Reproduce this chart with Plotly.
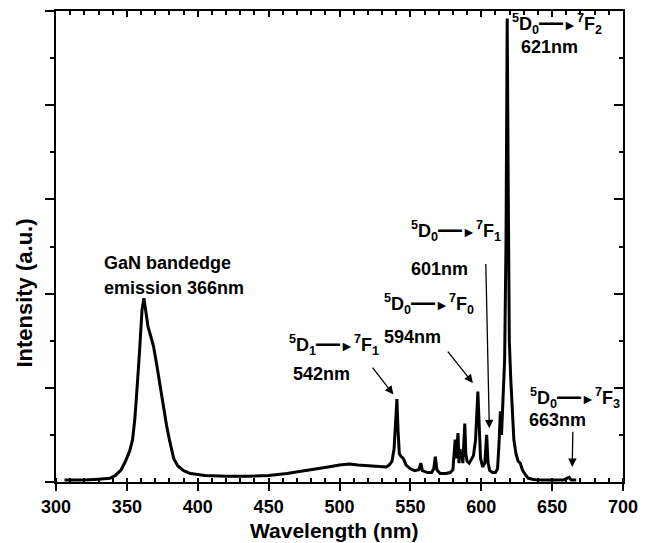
import plotly.graph_objects as go

# ---- data ----
wavelength = [306, 320, 330, 338, 342, 346, 349, 352, 354, 355.5, 356.6, 358, 359, 360.7, 362, 363,
              364.9, 366.8, 368.8, 371, 373, 375.5, 378, 380, 383, 386, 390, 395, 400, 405, 420, 435,
              450, 463, 475, 485, 492, 500, 507, 513, 521, 528, 533, 535, 537, 538.5, 539.5, 540.5,
              541.3, 542.2, 543.5, 545, 547, 550, 553, 556, 557.4, 558.5, 562, 565, 566.5, 567.6,
              568.7, 571, 575, 578, 580, 581, 581.6, 582.2, 583, 583.6, 584.3, 585, 585.6, 586.3,
              587, 587.8, 588.4, 589.1, 590, 591.5, 593, 594.5, 596, 597.6, 598.7, 599.5, 601, 602.5,
              603.8, 604.8, 606, 608, 610, 611.5, 612.5, 613.5, 614.3, 615.5, 616.5, 617.5, 618.3,
              619.0, 619.8, 620.8, 621.8, 623, 624.5, 626, 627.5, 629, 631, 633, 636, 640, 650, 658,
              660.5, 662, 663.5, 667]
intensity = [0.02, 0.02, 0.03, 0.04, 0.07, 0.13, 0.22, 0.33, 0.45, 0.65, 0.87, 1.15, 1.40, 1.83, 1.95, 1.85,
             1.65, 1.55, 1.44, 1.25, 1.05, 0.85, 0.60, 0.45, 0.25, 0.17, 0.12, 0.09, 0.08, 0.07, 0.06, 0.06,
             0.07, 0.09, 0.12, 0.14, 0.16, 0.18, 0.19, 0.18, 0.17, 0.16, 0.16, 0.18, 0.22, 0.35, 0.60, 0.88,
             0.55, 0.30, 0.27, 0.25, 0.18, 0.14, 0.12, 0.13, 0.20, 0.12, 0.10, 0.10, 0.14, 0.27,
             0.13, 0.09, 0.09, 0.10, 0.13, 0.30, 0.45, 0.25, 0.42, 0.52, 0.20, 0.35, 0.28, 0.30,
             0.20, 0.40, 0.62, 0.30, 0.22, 0.20, 0.24, 0.28, 0.45, 0.96, 0.55, 0.25, 0.16, 0.20,
             0.50, 0.20, 0.12, 0.10, 0.10, 0.14, 0.40, 0.75, 0.50, 0.90, 1.30, 2.60, 4.92,
             3.20, 1.50, 1.10, 0.75, 0.45, 0.30, 0.22, 0.20, 0.13, 0.08, 0.04, 0.03, 0.02, 0.02, 0.02,
             0.04, 0.05, 0.02, 0.02]

x_ticks = [300, 350, 400, 450, 500, 550, 600, 650, 700]
x_tick_labels = ["300", "350", "400", "450", "500", "550", "600", "650", "700"]
y_ticks = [0, 1, 2, 3, 4, 5]

x_title = "Wavelength (nm)"
y_title = "Intensity (a.u.)"

ARROW = '<span style="font-size:24px">—</span><span style="font-size:14px">►</span>'


def transition(lower, sub_final):
    return f"<sup>5</sup>D<sub>{lower}</sub>{ARROW}<sup>7</sup>F<sub>{sub_final}</sub>"


# text labels: (text, x, y)
labels = [
    ("GaN bandedge", 332.3, 2.33),
    ("emission 366nm", 332.3, 2.06),
    (transition(1, 1), 463.0, 1.47),
    ("542nm", 466.0, 1.15),
    (transition(0, 0), 530.3, 1.91),
    ("594nm", 530.3, 1.54),
    (transition(0, 1), 549.0, 2.68),
    ("601nm", 549.0, 2.26),
    (transition(0, 2), 620.4, 4.88),
    ("621nm", 626.7, 4.62),
    (transition(0, 3), 633.0, 0.91),
    ("663nm", 632.2, 0.66),
]
# arrows: (tail_x, tail_y, head_x, head_y)
arrows = [
    (522.5, 1.23, 538.0, 0.93),
    (575.6, 1.40, 594.1, 1.05),
    (603.2, 2.33, 605.7, 0.57),
    (664.6, 0.55, 664.2, 0.16),
]

FONT = "Liberation Sans, Arial, Helvetica, sans-serif"

fig = go.Figure()
fig.add_trace(go.Scatter(x=wavelength, y=intensity, mode="lines",
                         line=dict(color="black", width=3),
                         showlegend=False, hoverinfo="skip"))
fig.add_trace(go.Scatter(x=[None], y=[None], xaxis="x2", yaxis="y2",
                         showlegend=False, hoverinfo="skip"))

common_x = dict(range=[300, 700], tickvals=x_ticks, showgrid=False, zeroline=False,
                showline=True, linewidth=2, linecolor="black", tickcolor="black", tickwidth=2)
common_y = dict(range=[0, 5], tickvals=y_ticks, showgrid=False, zeroline=False,
                showline=True, linewidth=2, linecolor="black", tickcolor="black", tickwidth=2,
                showticklabels=False)

fig.update_layout(
    width=649, height=543,
    margin=dict(l=56, r=16, t=11, b=61),
    paper_bgcolor="white", plot_bgcolor="white",
    font=dict(family=FONT, color="black"),
    xaxis=dict(**common_x, ticktext=x_tick_labels, ticks="outside", ticklen=7,
               tickfont=dict(size=18, weight="bold", family=FONT),
               minor=dict(tickmode="linear", tick0=300, dtick=10, ticks="inside",
                          ticklen=4, tickwidth=1.5, tickcolor="black")),
    xaxis2=dict(**common_x, overlaying="x", side="top", anchor="y", ticks="inside", ticklen=6,
                showticklabels=False,
                minor=dict(tickmode="linear", tick0=300, dtick=10, ticks="inside",
                           ticklen=4, tickwidth=1.5, tickcolor="black")),
    yaxis=dict(**common_y, ticks="outside", ticklen=9,
               minor=dict(tickmode="linear", tick0=0, dtick=0.5, ticks="outside",
                          ticklen=4, tickwidth=1.5, tickcolor="black")),
    yaxis2=dict(**common_y, overlaying="y", side="right", anchor="x", ticks="inside", ticklen=9,
                minor=dict(tickmode="linear", tick0=0, dtick=0.5, ticks="inside",
                           ticklen=4, tickwidth=1.5, tickcolor="black")),
)

annotations = []
for text, x, y in labels:
    annotations.append(dict(text=text, x=x, y=y, xref="x", yref="y", showarrow=False,
                            xanchor="left", yanchor="middle",
                            font=dict(size=18, weight="bold", family=FONT, color="black")))
for tx, ty, hx, hy in arrows:
    annotations.append(dict(text="", x=hx, y=hy, ax=tx, ay=ty, xref="x", yref="y",
                            axref="x", ayref="y", showarrow=True, arrowhead=2,
                            arrowsize=1.3, arrowwidth=1.3, arrowcolor="black"))
annotations.append(dict(text=x_title, x=0.49, y=-0.102, xref="paper", yref="paper",
                        showarrow=False, xanchor="center", yanchor="middle",
                        font=dict(size=21, weight="bold", family=FONT, color="black")))
annotations.append(dict(text=y_title, x=0, xshift=-31, y=0.40, xref="paper", yref="paper",
                        showarrow=False, xanchor="center", yanchor="middle", textangle=-90,
                        font=dict(size=22, weight="bold", family=FONT, color="black")))
fig.update_layout(annotations=annotations)

fig.write_html("out.html")
